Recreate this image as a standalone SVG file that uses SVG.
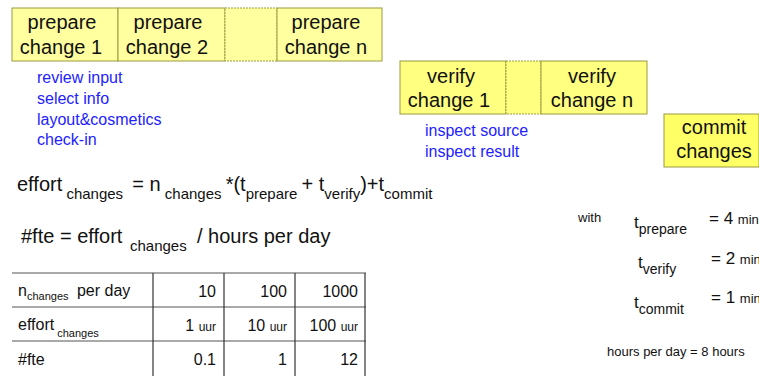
<svg xmlns="http://www.w3.org/2000/svg" width="759" height="376" viewBox="0 0 759 376">
<style>
text{font-family:"Liberation Sans",Arial,sans-serif;fill:#111}
.box{stroke:#9a9a40;stroke-width:1}
.p{fill:#ffffa0}
.v{fill:#ffff80}
.c{fill:#ffff66}
.gap{stroke-dasharray:2 1}
.bt{font-size:20px;text-anchor:middle}
.blue{font-size:16px;fill:#2222ff}
.f{font-size:20px}
.s{font-size:15px}
.tb{font-size:16px}
.ts{font-size:11px}
.u{font-size:12px}
.r{text-anchor:end}
.hl{stroke:#555;stroke-width:1.2}
.vl{stroke:#333;stroke-width:1.2}
.par{font-size:17px}
.pars{font-size:14px}
.sm{font-size:13px}
</style>
<rect width="759" height="376" fill="#fff"/>

<g id="prepare1">
<rect class="box p" x="12" y="8" width="106" height="53"/>
<text class="bt" x="62" y="29">prepare</text>
<text class="bt" x="61" y="54">change 1</text>
</g>
<g id="prepare2">
<rect class="box p" x="118" y="8" width="107" height="53"/>
<text class="bt" x="168" y="29">prepare</text>
<text class="bt" x="167" y="54">change 2</text>
</g>
<g id="prepare-gap">
<rect class="box p gap" x="225" y="8" width="52" height="53"/>
</g>
<g id="prepareN">
<rect class="box p" x="277" y="8" width="105" height="53"/>
<text class="bt" x="326" y="29">prepare</text>
<text class="bt" x="326" y="54">change n</text>
</g>
<g id="prepare-notes">
<text class="blue" x="37" y="83">review input</text>
<text class="blue" x="37" y="104">select info</text>
<text class="blue" x="37" y="125">layout&amp;cosmetics</text>
<text class="blue" x="37" y="145">check-in</text>
</g>

<g id="verify1">
<rect class="box v" x="400" y="61" width="106" height="53"/>
<text class="bt" x="451" y="83">verify</text>
<text class="bt" x="449" y="107">change 1</text>
</g>
<g id="verify-gap">
<rect class="box v gap" x="506" y="61" width="35" height="53"/>
</g>
<g id="verifyN">
<rect class="box v" x="541" y="61" width="106" height="53"/>
<text class="bt" x="592" y="83">verify</text>
<text class="bt" x="592" y="107">change n</text>
</g>
<g id="verify-notes">
<text class="blue" x="425" y="136">inspect source</text>
<text class="blue" x="425" y="157">inspect result</text>
</g>

<g id="commit">
<rect class="box c" x="664" y="114" width="95" height="53"/>
<text class="bt" x="714" y="134">commit</text>
<text class="bt" x="714" y="158">changes</text>
</g>

<g id="formula1">
<text x="17" y="191"><tspan class="f">effort</tspan><tspan class="s" dy="8"> changes </tspan><tspan class="f" dx="5" dy="-8">= n</tspan><tspan class="s" dy="8"> changes </tspan><tspan class="f" dy="-8">*(t</tspan><tspan class="s" dy="8">prepare </tspan><tspan class="f" dy="-8"> + t</tspan><tspan class="s" dy="8">verify</tspan><tspan class="f" dy="-8">)+t</tspan><tspan class="s" dy="8">commit</tspan></text>
</g>
<g id="formula2">
<text class="f" x="21" y="243">#fte = effort</text>
<text class="s" x="130" y="251">changes</text>
<text class="f" x="197" y="243">/ hours per day</text>
</g>

<g id="table">
<line class="hl" x1="12" y1="273" x2="366" y2="273"/>
<line class="hl" x1="12" y1="307" x2="366" y2="307"/>
<line class="hl" x1="12" y1="341" x2="366" y2="341"/>
<line class="vl" x1="153" y1="273" x2="153" y2="376"/>
<line class="vl" x1="224" y1="273" x2="224" y2="376"/>
<line class="vl" x1="295" y1="273" x2="295" y2="376"/>
<line class="vl" x1="365" y1="273" x2="365" y2="376"/>
<text x="18" y="296"><tspan class="tb">n</tspan><tspan class="ts" dy="4">changes</tspan><tspan class="tb" dx="4" dy="-4"> per day</tspan></text>
<text x="18" y="330"><tspan class="tb">effort</tspan><tspan class="ts" dy="7"> changes</tspan></text>
<text class="tb" x="18" y="365">#fte</text>
<text class="tb r" x="216" y="297">10</text>
<text class="tb r" x="287" y="297">100</text>
<text class="tb r" x="358" y="297">1000</text>
<text class="r" x="216" y="331"><tspan class="tb">1 </tspan><tspan class="u">uur</tspan></text>
<text class="r" x="287" y="331"><tspan class="tb">10 </tspan><tspan class="u">uur</tspan></text>
<text class="r" x="358" y="331"><tspan class="tb">100 </tspan><tspan class="u">uur</tspan></text>
<text class="tb r" x="216" y="365">0.1</text>
<text class="tb r" x="287" y="365">1</text>
<text class="tb r" x="358" y="365">12</text>
</g>

<g id="parameters">
<text class="sm" x="578" y="222">with</text>
<text x="634" y="228"><tspan class="par">t</tspan><tspan class="pars" dy="6">prepare</tspan></text>
<text x="709" y="224"><tspan class="par">= 4 </tspan><tspan class="sm">min</tspan></text>
<text x="638" y="268"><tspan class="par">t</tspan><tspan class="pars" dy="6">verify</tspan></text>
<text x="711" y="264"><tspan class="par">= 2 </tspan><tspan class="sm">min</tspan></text>
<text x="634" y="308"><tspan class="par">t</tspan><tspan class="pars" dy="6">commit</tspan></text>
<text x="711" y="303"><tspan class="par">= 1 </tspan><tspan class="sm">min</tspan></text>
<text class="sm" x="607" y="356">hours per day = 8 hours</text>
</g>
</svg>
